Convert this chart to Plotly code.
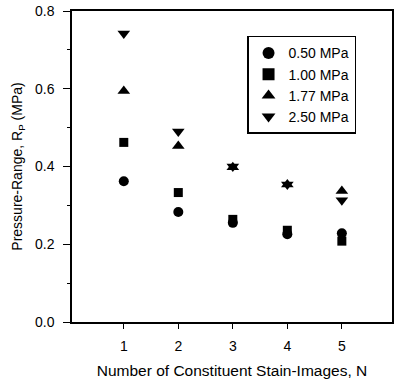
import plotly.graph_objects as go

n_images = [1, 2, 3, 4, 5]
series_names = ["0.50 MPa", "1.00 MPa", "1.77 MPa", "2.50 MPa"]
rp_050 = [0.362, 0.283, 0.255, 0.226, 0.228]
rp_100 = [0.462, 0.333, 0.264, 0.236, 0.208]
rp_177 = [0.594, 0.453, 0.398, 0.354, 0.337]
rp_250 = [0.742, 0.490, 0.400, 0.354, 0.313]
x_ticks = [1, 2, 3, 4, 5]
y_ticks = [0.0, 0.2, 0.4, 0.6, 0.8]
y_ticktext = ["0.0", "0.2", "0.4", "0.6", "0.8"]

FONT = "Liberation Sans, Arial, Helvetica, sans-serif"

symbols = ["circle", "square", "triangle-up", "triangle-down"]
sizes = [10, 9, 11, 11]
all_series = [rp_050, rp_100, rp_177, rp_250]

fig = go.Figure()
for name, vals, sym, sz in zip(series_names, all_series, symbols, sizes):
    fig.add_trace(go.Scatter(
        x=n_images, y=vals, mode="markers", name=name,
        marker=dict(symbol=sym, size=sz, color="black", line=dict(width=0)),
    ))

axis_common = dict(
    showgrid=False, zeroline=False, showline=True, linecolor="black",
    linewidth=1.5, mirror=True, ticks="outside", tickcolor="black",
    tickwidth=1.2, tickfont=dict(family=FONT, size=14, color="black"),
    automargin=False,
)

fig.update_xaxes(
    **axis_common, range=[0.05, 5.92], tickvals=x_ticks, ticklen=5,
    ticklabelstandoff=5,
    title=dict(text="Number of Constituent Stain-Images, N",
               font=dict(family=FONT, size=15.5, color="black"), standoff=13),
)
fig.update_yaxes(
    **axis_common, range=[0, 0.8], tickvals=y_ticks, ticktext=y_ticktext,
    ticklen=7, ticklabelstandoff=6,
    minor=dict(ticks="outside", ticklen=3, tickcolor="black", tickwidth=1.2,
               dtick=0.1, showgrid=False),
    title=dict(text="Pressure-Range, R<sub>P</sub> (MPa)",
               font=dict(family=FONT, size=14, color="black"), standoff=9),
)

fig.update_layout(
    width=399, height=379,
    margin=dict(l=72, r=7, t=11, b=57, autoexpand=False),
    paper_bgcolor="white", plot_bgcolor="white",
    font=dict(family=FONT, size=14, color="black"),
    showlegend=True,
    legend=dict(
        x=0.547, y=0.92, xanchor="left", yanchor="top",
        bordercolor="black", borderwidth=1.5, bgcolor="white",
        font=dict(family=FONT, size=14, color="black"),
        itemsizing="constant", tracegroupgap=0,
    ),
)

fig.write_html(
    "out.html",
    config={"displayModeBar": False},
    post_script="document.body.style.margin='0';document.body.style.padding='0';",
)
